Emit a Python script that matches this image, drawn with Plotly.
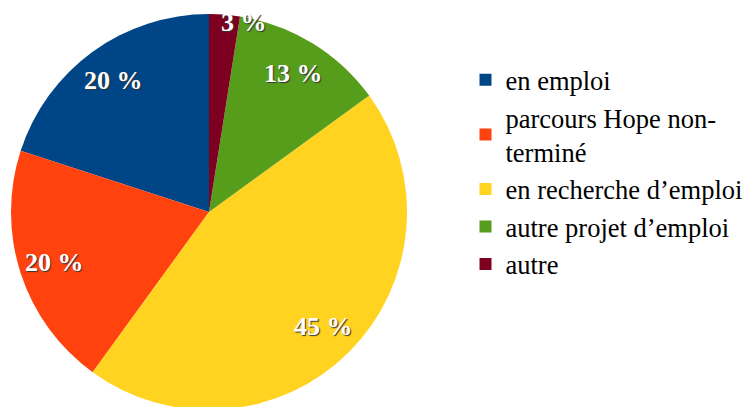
import math
import plotly.graph_objects as go

# ================================
# Données
# ================================
categories = ['en emploi', 'parcours Hope non-<br>terminé', 'en recherche d’emploi',
              'autre projet d’emploi', 'autre']
effectifs = [8, 8, 18, 5, 1]
couleurs = ['#004586', '#ff420e', '#ffd320', '#579d1c', '#7e0021']

total = sum(effectifs)
etiquettes = [f"{int(v / total * 100 + 0.5)} %" for v in effectifs]

# ================================
# Géométrie (pixels, dans la figure ; la page ajoute 8 px de marge)
# ================================
W, H = 750, 407
TOP, BOTTOM = 6, 5
R = (H - TOP - BOTTOM) / 2
CX, CY = 201, TOP + R

# ================================
# Figure
# ================================
# en sens anti-horaire, plotly colle la 1re part à droite de midi :
# on la fait tourner pour qu'elle parte de midi vers la gauche
fig = go.Figure(go.Pie(
    labels=categories, values=effectifs,
    textinfo='none',
    marker=dict(colors=couleurs, line=dict(width=0)),
    sort=False, direction='counterclockwise',
    rotation=-360 * effectifs[0] / total,
    domain=dict(x=[(CX - R) / W, (CX + R) / W], y=[0, 1]),
    hoverinfo='label+percent',
))

# étiquettes de pourcentage, placées à partir des angles des parts
cumul = 0
for v, txt in zip(effectifs, etiquettes):
    milieu = -2 * math.pi * (cumul + v / 2) / total
    cumul += v
    petit = v / total < 0.05
    rr = 0.96 * R if petit else 0.82 * R
    px_ = CX + rr * math.sin(milieu)
    py_ = CY - rr * math.cos(milieu)
    fig.add_annotation(
        x=px_ / W, y=1 - (py_ - TOP) / (H - TOP - BOTTOM),
        xref='paper', yref='paper', xanchor='center', yanchor='middle',
        text=txt, showarrow=False, xshift=20 if petit else 0,
        font=dict(family='Liberation Serif', size=26, color='white',
                  weight='bold', shadow='1px 1px 1px #333'),
    )

fig.update_layout(
    width=W, height=H,
    margin=dict(l=0, r=0, t=TOP, b=BOTTOM),
    paper_bgcolor='white', plot_bgcolor='white',
    legend=dict(x=0.61, xanchor='left', y=0.601, yanchor='middle',
                font=dict(family='Liberation Serif', size=26.5, color='black')),
)

fig.write_html("out.html")
